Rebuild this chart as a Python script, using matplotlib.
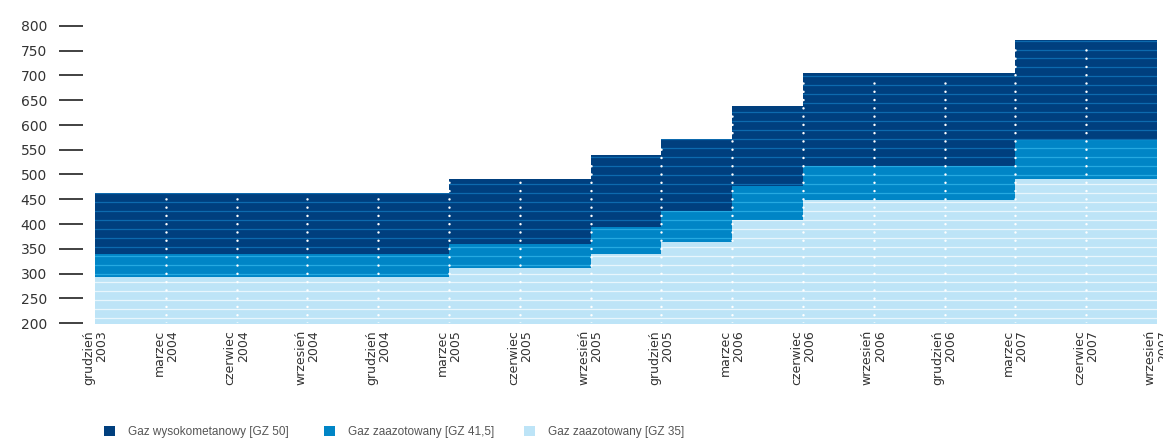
import numpy as np
import matplotlib
matplotlib.use("Agg")
import matplotlib.pyplot as plt
from matplotlib.patches import Patch

months = ["grudzień", "marzec", "czerwiec", "wrzesień", "grudzień", "marzec",
          "czerwiec", "wrzesień", "grudzień", "marzec", "czerwiec", "wrzesień",
          "grudzień", "marzec", "czerwiec", "wrzesień"]
years = ["2003", "2004", "2004", "2004", "2004", "2005", "2005", "2005",
         "2005", "2006", "2006", "2006", "2006", "2007", "2007", "2007"]

# capacity per gas type, stacked
gz35 = [292, 292, 292, 292, 292, 311, 311, 339, 364, 408, 448, 448, 448, 491, 491, 491]
gz415 = [48, 48, 48, 48, 48, 49, 49, 55, 62, 69, 69, 69, 69, 79, 79, 79]
gz50 = [122, 122, 122, 122, 122, 131, 131, 145, 146, 161, 188, 188, 188, 202, 202, 202]

series_names = ["Gaz wysokometanowy [GZ 50]", "Gaz zaazotowany [GZ 41,5]", "Gaz zaazotowany [GZ 35]"]
colors = ["#003f7e", "#0085c6", "#bde4f7"]
stripe_colors = ["#0d6aae", "#25a9e1", "#e8f6fd"]

x = np.arange(len(months))
b1 = np.array(gz35, dtype=float)
b2 = b1 + np.array(gz415)
b3 = b2 + np.array(gz50)

fig = plt.figure(figsize=(11.63, 4.40), dpi=100)
ax = fig.add_axes([93 / 1163, 1 - 323 / 440, (1159 - 93) / 1163, 297 / 440])
ax.set_xlim(-0.03, len(x) - 1 + 0.03)
ax.set_ylim(200, 800)

layers = [(0, b1, 2), (b1, b2, 1), (b2, b3, 0)]
stripe_y = np.arange(209.5, 800, 18.1)
for lo, hi, ci in layers:
    poly = ax.fill_between(x, lo, hi, step="post", color=colors[ci], linewidth=0)
    path = poly.get_paths()[0]
    lines = ax.hlines(stripe_y, -1, len(x), colors=stripe_colors[ci], linewidth=0.9)
    lines.set_clip_path(path, ax.transData)

# white dotted verticals at the quarter marks
for i in range(1, len(x) - 1):
    ax.plot([x[i], x[i]], [201, b3[i] - 6], color="white", linewidth=1.8,
            linestyle=(0, (0.01, 3.3)), dash_capstyle="round")

for s in ax.spines.values():
    s.set_visible(False)
ax.spines["left"].set_position(("outward", 7.2))

ax.set_yticks(np.arange(200, 801, 50))
ax.tick_params(axis="y", length=17, width=1.3, color="#333333", pad=9,
               labelsize=10, labelcolor="#333333")
ax.set_xticks(x)
ax.set_xticklabels([f"{m}\n{y}" for m, y in zip(months, years)], rotation=90,
                   fontsize=9, color="#333333", ha="center", va="top",
                   multialignment="right", linespacing=1.0)
ax.tick_params(axis="x", length=0, pad=5)

handles = [Patch(facecolor=c, edgecolor="none") for c in colors]
xpos = [104 / 1163, 324 / 1163, 524 / 1163]
for h, name, xp in zip(handles, series_names, xpos):
    fig.legend(handles=[h], labels=[name], loc="center left",
               bbox_to_anchor=(xp, 0.018), frameon=False, handlelength=0.9,
               handleheight=0.9, handletextpad=1.1, borderpad=0, borderaxespad=0,
               prop={"family": ["Liberation Sans", "DejaVu Sans"], "size": 8.5},
               labelcolor="#555555")

fig.savefig("out.png", dpi=100)
